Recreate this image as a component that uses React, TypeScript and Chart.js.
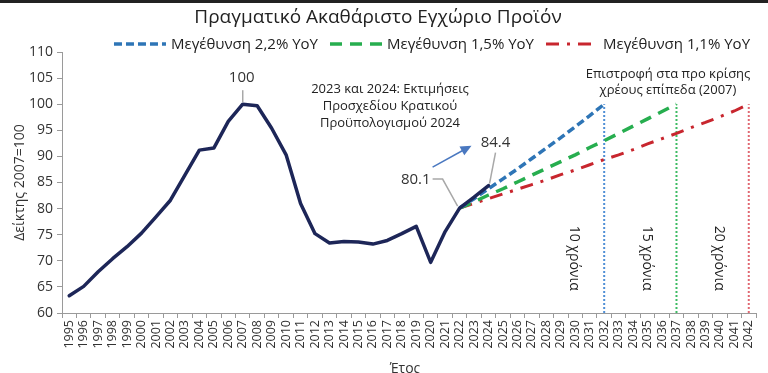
import React, { useEffect, useRef } from "react";
import { Chart, registerables } from "chart.js";

Chart.register(...registerables);

const FONT = "'Open Sans', 'Noto Sans', sans-serif";

const years = [
  "1995", "1996", "1997", "1998", "1999", "2000", "2001", "2002", "2003", "2004",
  "2005", "2006", "2007", "2008", "2009", "2010", "2011", "2012", "2013", "2014",
  "2015", "2016", "2017", "2018", "2019", "2020", "2021", "2022", "2023", "2024",
  "2025", "2026", "2027", "2028", "2029", "2030", "2031", "2032", "2033", "2034",
  "2035", "2036", "2037", "2038", "2039", "2040", "2041", "2042",
];

// Real GDP index 2007=100 (1995..2024)
const gdpIndex = [
  63.3, 65.1, 67.9, 70.4, 72.7, 75.3, 78.4, 81.6, 86.4, 91.2,
  91.6, 96.7, 100.0, 99.7, 95.4, 90.3, 81.0, 75.2, 73.4, 73.7,
  73.6, 73.2, 73.9, 75.2, 76.6, 69.7, 75.6, 80.1, 82.2, 84.4,
];

// Projections starting in 2022
const projStart = "2022";
const growth22 = [80.1, 81.9, 83.8, 85.7, 87.6, 89.6, 91.6, 93.6, 95.7, 97.8, 100.0];
const growth15 = [80.1, 81.3, 82.6, 83.8, 85.1, 86.4, 87.7, 89.0, 90.3, 91.7, 93.0, 94.4, 95.8, 97.2, 98.6, 100.0];
const growth11 = [
  80.1, 81.0, 81.9, 82.8, 83.7, 84.6, 85.5, 86.5, 87.4, 88.4,
  89.4, 90.3, 91.3, 92.4, 93.4, 94.4, 95.5, 96.5, 97.6, 98.7, 100.0,
];

const markerYears = ["2032", "2037", "2042"];
const markerRange = [60, 100];
const markerLabels = ["10 χρόνια", "15 χρόνια", "20 χρόνια"];
const markerLabelYears = ["2030", "2035", "2040"];

const yTicksMin = 60;
const yTicksMax = 110;
const yStep = 5;

const titleText = "Πραγματικό Ακαθάριστο Εγχώριο Προϊόν";
const yTitle = "Δείκτης 2007=100";
const xTitle = "Έτος";
const legendLabels = ["Μεγέθυνση 2,2% YoY", "Μεγέθυνση 1,5% YoY", "Μεγέθυνση 1,1% YoY"];
const noteLeft = ["2023 και 2024: Εκτιμήσεις", "Προσχεδίου Κρατικού", "Προϋπολογισμού 2024"];
const noteRight = ["Επιστροφή στα προ κρίσης", "χρέους επίπεδα (2007)"];

const NAVY = "#1d2658";
const BLUE = "#2e75b6";
const GREEN = "#27ae4f";
const RED = "#c8262e";

const legendStyles = [
  { color: BLUE, dash: [8, 4], width: 3.5 },
  { color: GREEN, dash: [12, 8], width: 3.5 },
  { color: RED, dash: [13, 8, 3, 8], width: 3 },
];

function projData(vals: number[]) {
  const s = years.indexOf(projStart);
  return vals.map((v, i) => ({ x: years[s + i], y: v }));
}

const annotationPlugin = {
  id: "annotations",
  afterDraw(chart: any) {
    const { ctx } = chart;
    const xs = chart.scales.x;
    const ys = chart.scales.y;
    const xp = (yr: string) => xs.getPixelForValue(years.indexOf(yr));
    const yp = (v: number) => ys.getPixelForValue(v);

    ctx.save();
    // top dark band
    ctx.fillStyle = "#222";
    ctx.fillRect(0, 0, chart.width, 3);

    // title
    ctx.fillStyle = "#222";
    ctx.textAlign = "center";
    ctx.textBaseline = "middle";
    ctx.font = `19px ${FONT}`;
    ctx.fillText(titleText, 378, 18);

    // legend
    ctx.font = `15px ${FONT}`;
    const lineLen = 52;
    const gapLT = 5;
    const gapItem = 12;
    const widths = legendLabels.map((t) => ctx.measureText(t).width);
    const total = widths.reduce((a, w) => a + lineLen + gapLT + w, 0) + gapItem * (legendLabels.length - 1);
    let lx = 432 - total / 2;
    const ly = 44;
    legendLabels.forEach((t, i) => {
      const st = legendStyles[i];
      ctx.save();
      ctx.strokeStyle = st.color;
      ctx.lineWidth = st.width;
      ctx.setLineDash(st.dash);
      ctx.beginPath();
      ctx.moveTo(lx, ly);
      ctx.lineTo(lx + lineLen, ly);
      ctx.stroke();
      ctx.restore();
      ctx.fillStyle = "#222";
      ctx.textAlign = "left";
      ctx.fillText(t, lx + lineLen + gapLT, ly + 1);
      lx += lineLen + gapLT + widths[i] + gapItem;
    });

    // axis titles
    ctx.textAlign = "center";
    ctx.font = `14px ${FONT}`;
    ctx.fillStyle = "#333";
    ctx.save();
    ctx.translate(20, (ys.top + ys.bottom) / 2);
    ctx.rotate(-Math.PI / 2);
    ctx.fillText(yTitle, 0, 0);
    ctx.restore();
    ctx.fillText(xTitle, 405, 369);

    // leader lines
    ctx.strokeStyle = "#a8a8a8";
    ctx.lineWidth = 1.5;
    const pk = { x: xp("2007"), y: yp(100) };
    ctx.beginPath();
    ctx.moveTo(pk.x, pk.y - 14);
    ctx.lineTo(pk.x, pk.y - 2);
    ctx.stroke();
    ctx.fillStyle = "#333";
    ctx.font = `15px ${FONT}`;
    ctx.fillText("100", pk.x - 1, pk.y - 26);

    const p22 = { x: xp("2022"), y: yp(80.1) };
    ctx.beginPath();
    ctx.moveTo(p22.x - 27, p22.y - 29);
    ctx.lineTo(p22.x - 17, p22.y - 29);
    ctx.lineTo(p22.x - 2, p22.y - 2);
    ctx.stroke();
    ctx.textAlign = "right";
    ctx.fillText("80.1", p22.x - 29, p22.y - 28);

    const p24 = { x: xp("2024"), y: yp(84.4) };
    ctx.beginPath();
    ctx.moveTo(p24.x + 7, p24.y - 33);
    ctx.lineTo(p24.x + 1, p24.y - 2);
    ctx.stroke();
    ctx.textAlign = "center";
    ctx.fillText("84.4", p24.x + 7, p24.y - 43);

    // arrow
    const ax0 = p22.x - 27, ay0 = p22.y - 41;
    const ax1 = p24.x - 17, ay1 = p24.y - 40;
    const ang = Math.atan2(ay1 - ay0, ax1 - ax0);
    ctx.strokeStyle = "#4a78c0";
    ctx.fillStyle = "#4a78c0";
    ctx.lineWidth = 1.5;
    ctx.beginPath();
    ctx.moveTo(ax0, ay0);
    ctx.lineTo(ax1 - 8 * Math.cos(ang), ay1 - 8 * Math.sin(ang));
    ctx.stroke();
    ctx.beginPath();
    ctx.moveTo(ax1, ay1);
    ctx.lineTo(ax1 - 11 * Math.cos(ang) + 5 * Math.sin(ang), ay1 - 11 * Math.sin(ang) - 5 * Math.cos(ang));
    ctx.lineTo(ax1 - 11 * Math.cos(ang) - 5 * Math.sin(ang), ay1 - 11 * Math.sin(ang) + 5 * Math.cos(ang));
    ctx.closePath();
    ctx.fill();

    // notes
    ctx.fillStyle = "#222";
    ctx.font = `13px ${FONT}`;
    ctx.textAlign = "center";
    noteLeft.forEach((t, i) => ctx.fillText(t, 390, 89 + i * 17));
    noteRight.forEach((t, i) => ctx.fillText(t, 668, 74 + i * 16));

    // rotated marker labels
    ctx.font = `14px ${FONT}`;
    markerLabels.forEach((t, i) => {
      ctx.save();
      ctx.translate(xp(markerLabelYears[i]) - 1, yp(70.5));
      ctx.rotate(Math.PI / 2);
      ctx.fillText(t, 0, 0);
      ctx.restore();
    });
    ctx.restore();
  },
};

export default function App() {
  const ref = useRef<HTMLCanvasElement | null>(null);

  useEffect(() => {
    if (!ref.current) return;
    const markerColors = ["#4f8fd6", "#3dbb63", "#e06872"];
    const chart = new Chart(ref.current, {
      type: "line",
      data: {
        labels: years,
        datasets: [
          {
            label: "ΑΕΠ",
            data: gdpIndex,
            borderColor: NAVY,
            borderWidth: 3.5,
            pointRadius: 0,
            tension: 0,
            borderJoinStyle: "round",
            borderCapStyle: "round",
          },
          {
            label: legendLabels[0],
            data: projData(growth22),
            borderColor: BLUE,
            borderWidth: 3.5,
            borderDash: legendStyles[0].dash,
            pointRadius: 0,
          },
          {
            label: legendLabels[1],
            data: projData(growth15),
            borderColor: GREEN,
            borderWidth: 3.5,
            borderDash: legendStyles[1].dash,
            pointRadius: 0,
          },
          {
            label: legendLabels[2],
            data: projData(growth11),
            borderColor: RED,
            borderWidth: 3,
            borderDash: legendStyles[2].dash,
            pointRadius: 0,
          },
          ...markerYears.map((yr, i) => ({
            label: "marker" + yr,
            data: markerRange.map((v) => ({ x: yr, y: v })),
            borderColor: markerColors[i],
            borderWidth: 2,
            borderDash: [2, 2],
            pointRadius: 0,
          })),
        ],
      } as any,
      options: {
        responsive: false,
        animation: false,
        devicePixelRatio: 1,
        layout: { padding: { top: 52, right: 12, left: 0, bottom: 0 } },
        plugins: {
          legend: { display: false },
          title: { display: false },
          tooltip: { enabled: false },
        },
        scales: {
          x: {
            type: "category",
            offset: true,
            grid: { display: true, drawOnChartArea: false, offset: true, tickLength: 5, color: "#9a9a9a" },
            border: { color: "#9a9a9a", width: 1 },
            ticks: {
              autoSkip: false,
              minRotation: 90,
              maxRotation: 90,
              color: "#333",
              font: { size: 12.5, family: FONT },
              padding: 2,
            },
            afterFit: (s: any) => {
              s.height = 60;
            },
          },
          y: {
            min: yTicksMin,
            max: yTicksMax,
            grid: { display: true, drawOnChartArea: false, tickLength: 5, color: "#9a9a9a" },
            border: { color: "#9a9a9a", width: 1 },
            ticks: {
              stepSize: yStep,
              color: "#333",
              font: { size: 14, family: FONT },
              padding: 4,
            },
            afterFit: (s: any) => {
              s.width = 62;
            },
          },
        },
      } as any,
      plugins: [annotationPlugin],
    });
    return () => chart.destroy();
  }, []);

  return (
    <div style={{ position: "absolute", left: 0, top: 0, width: 768, height: 373, background: "#fff" }}>
      <canvas ref={ref} width={768} height={373} style={{ display: "block" }} />
    </div>
  );
}
